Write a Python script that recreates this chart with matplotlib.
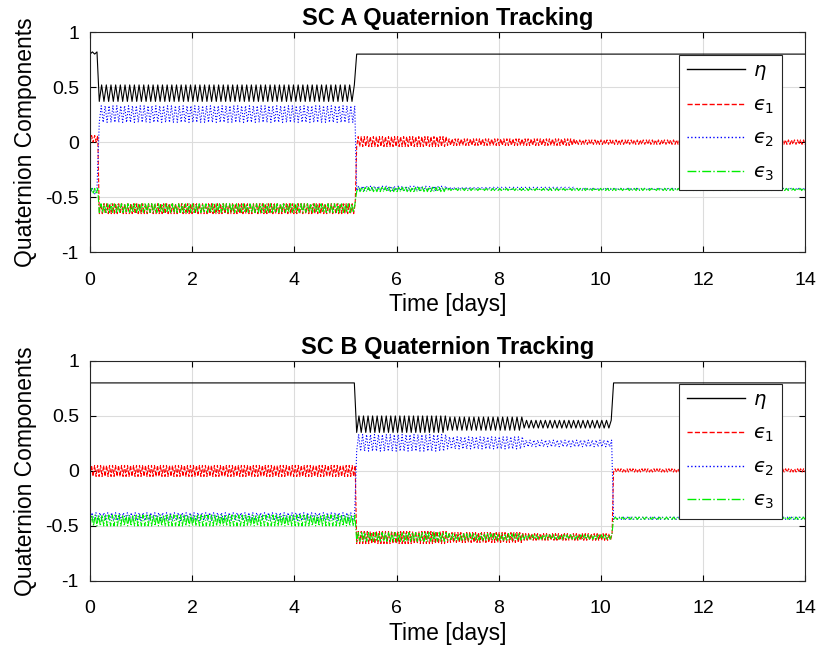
import numpy as np
import matplotlib.pyplot as plt

plt.rcParams['font.family'] = ['Liberation Sans', 'DejaVu Sans']
plt.rcParams['mathtext.fontset'] = 'dejavusans'

# segment edges [days] and envelope (low/high) of each component per segment
edges_A = [0, 0.18, 5.22, 7.0, 9.5, 14]
eta_A_lo = [0.80, 0.37, 0.80, 0.80, 0.80]
eta_A_hi = [0.82, 0.52, 0.80, 0.80, 0.80]
e1_A_lo = [0.00, -0.65, -0.04, -0.03, -0.02]
e1_A_hi = [0.06, -0.56, 0.05, 0.03, 0.02]
e2_A_lo = [-0.47, 0.18, -0.44, -0.43, -0.43]
e2_A_hi = [-0.42, 0.33, -0.40, -0.41, -0.42]
e3_A_lo = [-0.47, -0.64, -0.45, -0.44, -0.44]
e3_A_hi = [-0.42, -0.56, -0.41, -0.42, -0.42]

edges_B = [0, 5.22, 7.0, 8.5, 10.25, 14]
eta_B_lo = [0.80, 0.35, 0.37, 0.39, 0.80]
eta_B_hi = [0.80, 0.50, 0.49, 0.46, 0.80]
e1_B_lo = [-0.05, -0.66, -0.65, -0.63, -0.01]
e1_B_hi = [0.05, -0.55, -0.56, -0.57, 0.02]
e2_B_lo = [-0.45, 0.18, 0.20, 0.22, -0.44]
e2_B_hi = [-0.38, 0.33, 0.31, 0.28, -0.42]
e3_B_lo = [-0.50, -0.64, -0.63, -0.62, -0.44]
e3_B_hi = [-0.40, -0.56, -0.57, -0.58, -0.42]

# oscillations per day for eta, eps1, eps2, eps3
rates = [11, 17, 13, 15]


def zigzag(edges, lo, hi, rate):
    ts, ys = [], []
    for i in range(len(lo)):
        t0, t1 = edges[i], edges[i+1]
        n = max(2, int(round(rate*(t1-t0)))*2)
        ts.append(np.linspace(t0, t1, n, endpoint=False))
        ys.append(np.tile([lo[i], hi[i]], n//2))
    ts.append([edges[-1]])
    ys.append([lo[-1]])
    return np.concatenate(ts), np.concatenate(ys)


fig = plt.figure(figsize=(8.19, 6.55), dpi=100)
ax1 = fig.add_axes([0.110, 0.615, 0.873, 0.336])
ax2 = fig.add_axes([0.110, 0.113, 0.873, 0.336])

panels = [
    (ax1, 'SC A Quaternion Tracking', edges_A,
     [(eta_A_lo, eta_A_hi), (e1_A_lo, e1_A_hi), (e2_A_lo, e2_A_hi), (e3_A_lo, e3_A_hi)]),
    (ax2, 'SC B Quaternion Tracking', edges_B,
     [(eta_B_lo, eta_B_hi), (e1_B_lo, e1_B_hi), (e2_B_lo, e2_B_hi), (e3_B_lo, e3_B_hi)]),
]
styles = [('k', '-', r'$\eta$'), ('#ff0000', '--', '$\u03f5_1$'),
          ('#0000ff', ':', '$\u03f5_2$'), ('#00ee00', '-.', '$\u03f5_3$')]

for ax, title, edges, series in panels:
    for (lo, hi), (c, ls, lab), rate in zip(series, styles, rates):
        t, y = zigzag(edges, lo, hi, rate)
        ax.plot(t, y, color=c, linestyle=ls, lw=0.8, label=lab)
    ax.set_xlim(0, 14)
    ax.set_ylim(-1, 1)
    ax.set_xticks(range(0, 15, 2))
    ax.set_yticks([-1, -0.5, 0, 0.5, 1])
    ax.set_yticklabels(['-1', '-0.5', '0', '0.5', '1'])
    ax.grid(True, color='#dcdcdc', lw=0.8)
    ax.set_axisbelow(True)
    ax.tick_params(direction='in', top=True, right=True, labelsize=14, length=4)
    ax.tick_params(axis='x', pad=14)
    ax.tick_params(axis='y', pad=8)
    for sp in ax.spines.values():
        sp.set_linewidth(0.8)
        sp.set_color('#262626')
    ax.set_title(title, fontsize=17, fontweight='bold', pad=5)
    ax.set_xlabel('Time [days]', fontsize=16.5, labelpad=3)
    ax.set_ylabel('Quaternion Components', fontsize=16.5, labelpad=6)
    leg = ax.legend(loc='upper right', bbox_to_anchor=(0.968, 0.897), borderaxespad=0,
                    fontsize=14, handlelength=3.0, handletextpad=0.4, labelspacing=0.75,
                    borderpad=0.4, fancybox=False, framealpha=1, edgecolor='#262626')
    leg.get_frame().set_linewidth(0.8)
    for h in leg.get_lines():
        h.set_linewidth(1.0)

plt.savefig('out.png', dpi=100)
